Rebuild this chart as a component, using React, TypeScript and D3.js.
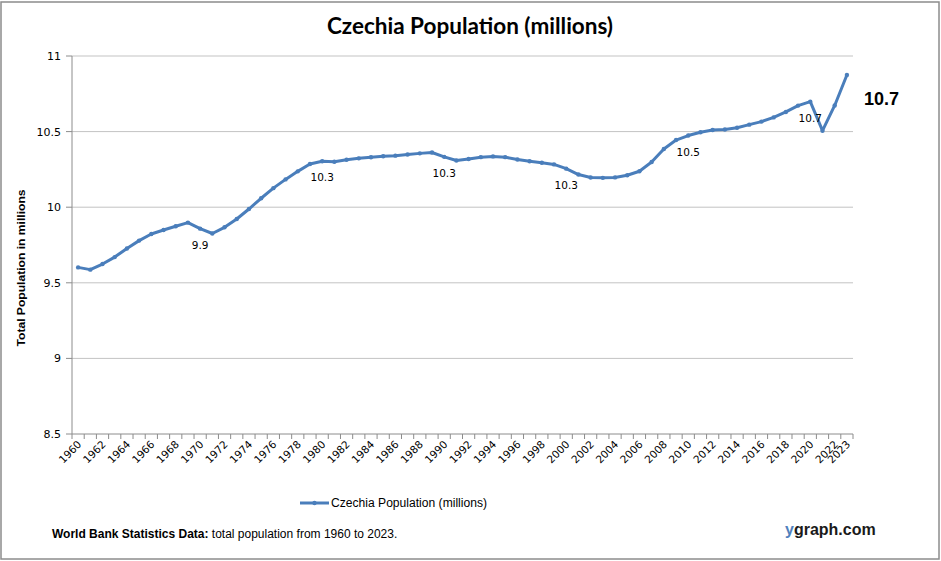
import React from "react";
import * as d3 from "d3";

const years: number[] = Array.from({ length: 64 }, (_, i) => 1960 + i);
const population: number[] = [
  9.602, 9.587, 9.624, 9.670, 9.727, 9.779, 9.823, 9.849, 9.874, 9.898,
  9.858, 9.826, 9.867, 9.922, 9.988, 10.059, 10.126, 10.184, 10.237, 10.286,
  10.304, 10.301, 10.314, 10.323, 10.330, 10.337, 10.341, 10.349, 10.356, 10.362,
  10.333, 10.309, 10.319, 10.331, 10.336, 10.331, 10.315, 10.304, 10.294, 10.283,
  10.255, 10.216, 10.196, 10.194, 10.197, 10.211, 10.238, 10.299, 10.385, 10.444,
  10.474, 10.496, 10.511, 10.514, 10.525, 10.546, 10.566, 10.594, 10.630, 10.672,
  10.698, 10.506, 10.673, 10.874,
];
const yTicks: number[] = [8.5, 9, 9.5, 10, 10.5, 11];
const xLabelYears: number[] = [...years.filter((y) => (y - 1960) % 2 === 0), 2023];
const labeledYears: number[] = [1970, 1980, 1990, 2000, 2010, 2020];
const labelTexts: string[] = ["9.9", "10.3", "10.3", "10.3", "10.5", "10.7"];
const lastLabel = "10.7";
const title = "Czechia Population (millions)";
const seriesName = "Czechia Population (millions)";
const yAxisTitle = "Total Population  in millions";

const W = 941;
const H = 561;
const left = 72;
const right = 853;
const top = 56;
const bottom = 434;
const blue = "#4a7ebb";

export default function App() {
  const x = d3.scaleBand<number>().domain(years).range([left, right]).padding(0);
  const cx = (yr: number) => (x(yr) as number) + x.bandwidth() / 2;
  const y = d3.scaleLinear().domain([8.5, 11]).range([bottom, top]);
  const line = d3
    .line<number>()
    .x((_, i) => cx(years[i]))
    .y((d) => y(d));
  const tickBounds = [...years.map((yr) => x(yr) as number), right];

  return (
    <svg
      width={W}
      height={H}
      style={{ position: "absolute", left: 0, top: 0, background: "#fff" }}
    >
      <rect x={1} y={2} width={938} height={557} fill="#fff" stroke="#8c8c8c" strokeWidth={1.5} />
      <text
        x={470}
        y={34}
        textAnchor="middle"
        fontFamily="Lato"
        fontWeight="bold"
        fontSize={22.5}
        fill="#000"
      >
        {title}
      </text>

      {yTicks.map((t) => (
        <g key={t}>
          {t !== 8.5 && (
            <line x1={left} x2={right} y1={y(t)} y2={y(t)} stroke="#c3c3c3" strokeWidth={1} />
          )}
          <line x1={left - 6} x2={left} y1={y(t)} y2={y(t)} stroke="#8c8c8c" />
          <text
            x={61}
            y={y(t) + 4}
            textAnchor="end"
            fontFamily="DejaVu Sans"
            fontSize={11}
            fill="#000"
          >
            {t}
          </text>
        </g>
      ))}
      <line x1={left} x2={left} y1={top} y2={bottom} stroke="#8c8c8c" />
      <line x1={left} x2={right} y1={bottom} y2={bottom} stroke="#8c8c8c" />
      {tickBounds.map((bx, i) => (
        <line key={i} x1={bx} x2={bx} y1={bottom} y2={bottom + 5} stroke="#8c8c8c" />
      ))}
      {xLabelYears.map((yr) => {
        const ax = cx(yr) + 4;
        const ay = bottom + 11;
        return (
          <text
            key={yr}
            x={ax}
            y={ay}
            textAnchor="end"
            transform={`rotate(-45 ${ax} ${ay})`}
            fontFamily="DejaVu Sans"
            fontSize={10.5}
            fill="#000"
          >
            {yr}
          </text>
        );
      })}

      <text
        transform={`translate(25 268) rotate(-90)`}
        textAnchor="middle"
        fontFamily="Liberation Sans"
        fontWeight="bold"
        fontSize={11.5}
        textLength={157}
        lengthAdjust="spacingAndGlyphs"
        fill="#000"
      >
        {yAxisTitle}
      </text>

      <path d={line(population) || ""} fill="none" stroke={blue} strokeWidth={3} strokeLinejoin="round" />
      {population.map((v, i) => (
        <circle key={i} cx={cx(years[i])} cy={y(v)} r={2.2} fill={blue} />
      ))}

      {labeledYears.map((yr, i) => (
        <text
          key={yr}
          x={cx(yr)}
          y={y(population[years.indexOf(yr)]) + 20}
          textAnchor="middle"
          fontFamily="DejaVu Sans"
          fontSize={10.5}
          fill="#000"
        >
          {labelTexts[i]}
        </text>
      ))}
      <text x={864} y={105} fontFamily="Liberation Sans" fontWeight="bold" fontSize={18} fill="#000">
        {lastLabel}
      </text>

      <line x1={300} x2={329} y1={503} y2={503} stroke={blue} strokeWidth={3} />
      <circle cx={314.5} cy={503} r={2.2} fill={blue} />
      <text
        x={331}
        y={507}
        fontFamily="Liberation Sans"
        fontSize={12}
        textLength={156}
        lengthAdjust="spacingAndGlyphs"
        fill="#000"
      >
        {seriesName}
      </text>

      <text x={52} y={538} fontFamily="Liberation Sans" fontSize={12} fill="#000">
        <tspan fontWeight="bold">World Bank Statistics Data:</tspan>
        <tspan> total population from 1960 to 2023.</tspan>
      </text>
      <text x={785} y={535} fontFamily="Liberation Sans" fontWeight="bold" fontSize={16} fill="#1a1a1a">
        <tspan fill="#4f81bd">y</tspan>
        <tspan>graph.com</tspan>
      </text>
    </svg>
  );
}
